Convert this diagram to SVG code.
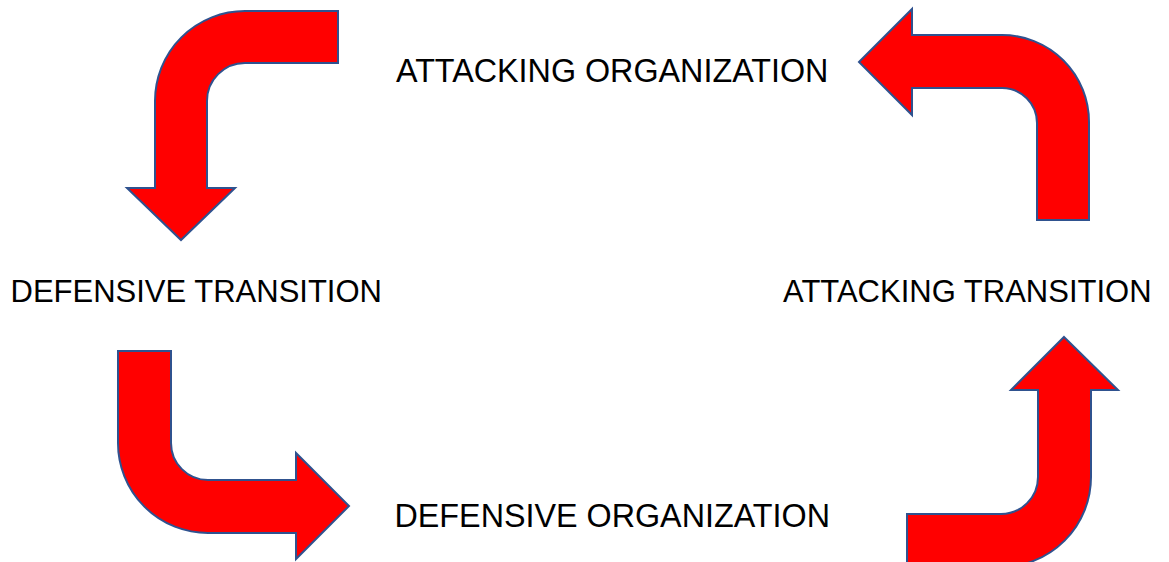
<svg xmlns="http://www.w3.org/2000/svg" width="1169" height="562" viewBox="0 0 1169 562">
<style>
.arrow{fill:#FF0000;stroke:#2F528F;stroke-width:2;stroke-linejoin:miter}
.lbl{font-family:"Liberation Sans",Arial,sans-serif;font-size:31px;fill:#000000}
.big{font-size:32.3px}
</style>
<rect width="1169" height="562" fill="#FFFFFF"/>
<g id="connectors">
<path id="arrow-top-left" class="arrow" d="M 338 11 L 338 63 L 245 63 A 38 38 0 0 0 207 101 L 207 188 L 235 188 L 181 240 L 127 188 L 155 188 L 155 101 A 90 90 0 0 1 245 11 Z"/>
<path id="arrow-top-right" class="arrow" d="M 859 62 L 912 9 L 912 35 L 1002 35 A 87 87 0 0 1 1089 122 L 1089 220 L 1037 220 L 1037 123 A 35 35 0 0 0 1002 88 L 912 88 L 912 115 Z"/>
<path id="arrow-bottom-left" class="arrow" d="M 118 351 L 171 351 L 171 443 A 37 37 0 0 0 208 480 L 296 480 L 296 453 L 349 506 L 296 559 L 296 533 L 208 533 A 90 90 0 0 1 118 443 Z"/>
<path id="arrow-bottom-right" class="arrow" d="M 1064 337 L 1118 390 L 1091 390 L 1091 477 A 90 90 0 0 1 1001 567 L 907 567 L 907 514 L 1001 514 A 37 37 0 0 0 1038 477 L 1038 390 L 1011 390 Z"/>
</g>
<g id="node-attacking-organization"><text class="lbl big" x="396" y="82">ATTACKING ORGANIZATION</text></g>
<g id="node-defensive-transition"><text class="lbl" x="10.5" y="302">DEFENSIVE TRANSITION</text></g>
<g id="node-attacking-transition"><text class="lbl" x="783" y="302">ATTACKING TRANSITION</text></g>
<g id="node-defensive-organization"><text class="lbl big" x="394.5" y="527">DEFENSIVE ORGANIZATION</text></g>
</svg>
